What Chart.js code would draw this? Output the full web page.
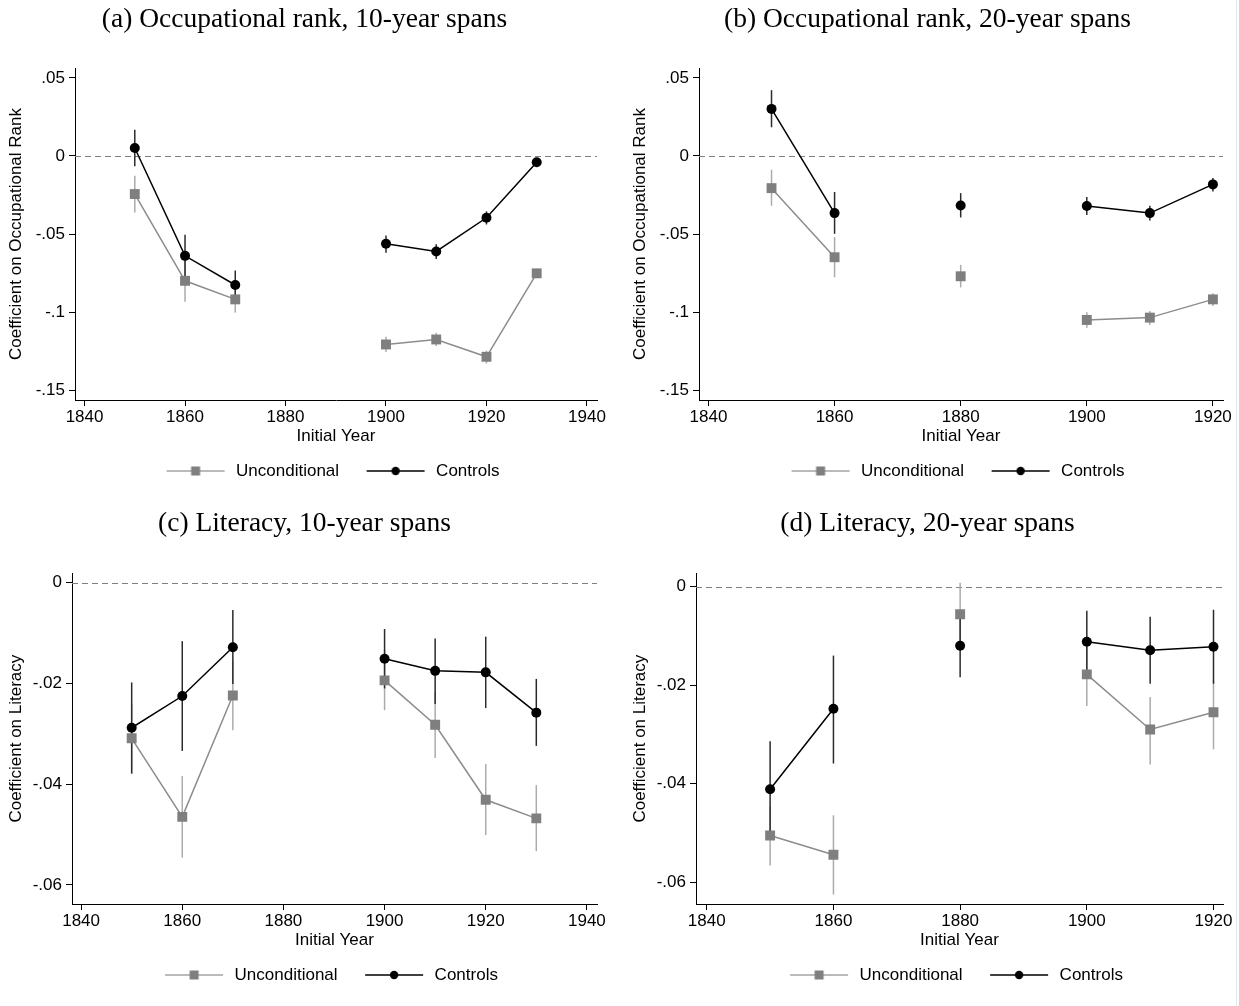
<!DOCTYPE html>
<html><head><meta charset="utf-8">
<script src="https://cdn.jsdelivr.net/npm/chart.js@4.4.0/dist/chart.umd.min.js"></script>
<style>
html,body{margin:0;padding:0;background:#fff;}
#wrap{position:relative;width:1239px;height:1006px;overflow:hidden;background:#fff;}
.p{position:absolute;}
#edge{position:absolute;left:1236px;top:0;width:1px;height:1006px;background:#e3eaef;}
</style></head><body>
<div id="wrap">
<div class="p" style="left:0;top:0"><canvas id="ca" width="620" height="504"></canvas></div>
<div class="p" style="left:620px;top:0"><canvas id="cb" width="619" height="504"></canvas></div>
<div class="p" style="left:0;top:504px"><canvas id="cc" width="620" height="502"></canvas></div>
<div class="p" style="left:620px;top:504px"><canvas id="cd" width="619" height="502"></canvas></div>
<div id="edge"></div>
</div>
<script>
// ---------- DATA ----------
const seriesNames = ['Unconditional', 'Controls'];
const xLabel = 'Initial Year';

// (a) Occupational rank, 10-year spans
const yearsA   = [1850, 1860, 1870, 1880, 1900, 1910, 1920, 1930];
const uncA     = [-0.0244, -0.0800, -0.0919, null, -0.1208, -0.1176, -0.1287, -0.0752];
const uncA_hi  = [-0.0126, -0.0666, -0.0837, null, -0.1158, -0.1133, -0.1248, -0.0730];
const uncA_lo  = [-0.0362, -0.0934, -0.1004, null, -0.1257, -0.1218, -0.1330, -0.0773];
const ctrlA    = [0.0051, -0.0640, -0.0827, null, -0.0563, -0.0612, -0.0396, -0.0040];
const ctrlA_hi = [0.0169, -0.0505, -0.0734, null, -0.0510, -0.0565, -0.0355, -0.0020];
const ctrlA_lo = [-0.0066, -0.0775, -0.0920, null, -0.0620, -0.0660, -0.0439, -0.0062];

// (b) Occupational rank, 20-year spans
const yearsB   = [1850, 1860, 1870, 1880, 1890, 1900, 1910, 1920];
const uncB     = [-0.0206, -0.0649, null, -0.0771, null, -0.1051, -0.1036, -0.0919];
const uncB_hi  = [-0.0088, -0.0520, null, -0.0698, null, -0.1002, -0.0994, -0.0880];
const uncB_lo  = [-0.0319, -0.0777, null, -0.0842, null, -0.1101, -0.1084, -0.0961];
const ctrlB    = [0.0302, -0.0366, null, -0.0317, null, -0.0320, -0.0366, -0.0182];
const ctrlB_hi = [0.0422, -0.0231, null, -0.0238, null, -0.0263, -0.0319, -0.0141];
const ctrlB_lo = [0.0184, -0.0499, null, -0.0394, null, -0.0379, -0.0413, -0.0227];

// (c) Literacy, 10-year spans
const yearsC   = [1850, 1860, 1870, 1880, 1900, 1910, 1920, 1930];
const uncC     = [-0.0309, -0.0465, -0.0224, null, -0.0194, -0.0282, -0.0431, -0.0468];
const uncC_hi  = [-0.0241, -0.0384, -0.0155, null, -0.0134, -0.0217, -0.0360, -0.0402];
const uncC_lo  = [-0.0379, -0.0546, -0.0293, null, -0.0253, -0.0348, -0.0501, -0.0533];
const ctrlC    = [-0.0288, -0.0225, -0.0128, null, -0.0151, -0.0175, -0.0178, -0.0258];
const ctrlC_hi = [-0.0198, -0.0116, -0.0054, null, -0.0092, -0.0111, -0.0107, -0.0191];
const ctrlC_lo = [-0.0379, -0.0334, -0.0201, null, -0.0210, -0.0241, -0.0249, -0.0324];

// (d) Literacy, 20-year spans
const yearsD   = [1850, 1860, 1870, 1880, 1890, 1900, 1910, 1920];
const uncD     = [-0.0505, -0.0544, null, -0.0056, null, -0.0178, -0.0290, -0.0255];
const uncD_hi  = [-0.0446, -0.0464, null, 0.0008, null, -0.0115, -0.0224, -0.0190];
const uncD_lo  = [-0.0566, -0.0625, null, -0.0122, null, -0.0242, -0.0361, -0.0330];
const ctrlD    = [-0.0411, -0.0248, null, -0.0120, null, -0.0112, -0.0129, -0.0122];
const ctrlD_hi = [-0.0314, -0.0140, null, -0.0058, null, -0.0049, -0.0061, -0.0047];
const ctrlD_lo = [-0.0510, -0.0359, null, -0.0184, null, -0.0173, -0.0197, -0.0197];

// Tick values and labels
const xTicksWide   = [1840, 1860, 1880, 1900, 1920, 1940];
const xTicksNarrow = [1840, 1860, 1880, 1900, 1920];
const yTicksOcc    = [0.05, 0, -0.05, -0.1, -0.15];
const yLabelsOcc   = ['.05', '0', '-.05', '-.1', '-.15'];
const yTicksLit    = [0, -0.02, -0.04, -0.06];
const yLabelsLit   = ['0', '-.02', '-.04', '-.06'];

// ---------- STYLE ----------
const SANS = "'Liberation Sans', Arial, Helvetica, sans-serif";
const SERIF = "'Liberation Serif', 'Times New Roman', serif";
const FS = 17;
const UNC_MARK = '#7f7f7f', UNC_LINE = '#8c8c8c', UNC_CI = '#ababab';
const CTRL_MARK = '#000000', CTRL_LINE = '#000000', CTRL_CI = '#2b2b2b';

function legendIcon(kind) {
  const c = document.createElement('canvas');
  c.width = 73; c.height = 16;
  const g = c.getContext('2d');
  g.strokeStyle = kind === 'sq' ? '#a3a3a3' : '#000';
  g.lineWidth = 1.5;
  g.beginPath(); g.moveTo(12, 8); g.lineTo(70, 8); g.stroke();
  if (kind === 'sq') { g.fillStyle = UNC_MARK; g.fillRect(36.5, 3.5, 9, 9); }
  else { g.fillStyle = '#000'; g.beginPath(); g.arc(41, 8, 4.2, 0, Math.PI * 2); g.fill(); }
  return c;
}

function ciPlugin(bars, legShift, titleShift) {
  return {
    id: 'ciBars',
    afterLayout(chart) {
      if (chart.legend) { chart.legend.left += legShift; chart.legend.right += legShift; }
      if (chart.titleBlock) { chart.titleBlock.left += titleShift; chart.titleBlock.right += titleShift; }
    },
    beforeDatasetsDraw(chart) {
      const {ctx, chartArea, scales: {x, y}} = chart;
      ctx.save();
      const y0 = Math.round(y.getPixelForValue(0)) + 0.5;
      ctx.strokeStyle = '#808080'; ctx.lineWidth = 1; ctx.setLineDash([6, 4]);
      ctx.beginPath(); ctx.moveTo(chartArea.left, y0); ctx.lineTo(chartArea.right, y0); ctx.stroke();
      ctx.setLineDash([]);
      bars.forEach(b => {
        ctx.strokeStyle = b.color; ctx.lineWidth = 1.5;
        b.years.forEach((yr, i) => {
          if (b.lo[i] == null || b.hi[i] == null) return;
          const px = x.getPixelForValue(yr);
          ctx.beginPath();
          ctx.moveTo(px, y.getPixelForValue(b.lo[i]));
          ctx.lineTo(px, y.getPixelForValue(b.hi[i]));
          ctx.stroke();
        });
      });
      ctx.restore();
    }
  };
}

function makePanel(id, p) {
  const pts = (vals) => p.years.map((yr, i) => ({x: yr, y: vals[i]}));
  const iconSq = legendIcon('sq'), iconCi = legendIcon('ci');
  new Chart(document.getElementById(id), {
    type: 'line',
    data: {
      datasets: [
        {label: seriesNames[0], data: pts(p.unc), borderColor: UNC_LINE, borderWidth: 1.5,
         pointStyle: 'rect', pointRadius: 7, pointBackgroundColor: UNC_MARK, pointBorderWidth: 0,
         pointBorderColor: UNC_MARK, spanGaps: false, tension: 0, order: 1},
        {label: seriesNames[1], data: pts(p.ctrl), borderColor: CTRL_LINE, borderWidth: 1.5,
         pointStyle: 'circle', pointRadius: 5, pointBackgroundColor: CTRL_MARK, pointBorderWidth: 0,
         pointBorderColor: CTRL_MARK, spanGaps: false, tension: 0, order: 0}
      ]
    },
    options: {
      responsive: false, animation: false, events: [],
      layout: {padding: {left: 0, right: p.padR, top: 0, bottom: p.padB}},
      plugins: {
        tooltip: {enabled: false},
        title: {display: true, text: p.title, color: '#000',
                font: {family: SERIF, size: 27.5, weight: 'normal'},
                padding: {top: 3.5, bottom: p.titleB}},
        legend: {
          position: 'bottom', fullSize: false,
          labels: {
            usePointStyle: true, pointStyleWidth: 73, boxHeight: FS, padding: 15.5,
            color: '#000', font: {family: SANS, size: FS},
            generateLabels: () => [
              {text: seriesNames[0], pointStyle: iconSq, fillStyle: UNC_MARK, strokeStyle: UNC_MARK,
               lineWidth: 0, hidden: false, datasetIndex: 0, fontColor: '#000'},
              {text: seriesNames[1], pointStyle: iconCi, fillStyle: '#000', strokeStyle: '#000',
               lineWidth: 0, hidden: false, datasetIndex: 1, fontColor: '#000'}
            ]
          }
        }
      },
      scales: {
        x: {
          type: 'linear', min: p.xMin, max: p.xMax,
          afterBuildTicks: s => { s.ticks = p.xTicks.map(v => ({value: v})); },
          afterFit: s => { s.height = 47; },
          ticks: {autoSkip: false, maxRotation: 0, padding: 1, color: '#000',
                  font: {family: SANS, size: FS}, callback: v => String(v)},
          grid: {drawOnChartArea: false, drawTicks: true, tickLength: 6, color: '#000', lineWidth: 1},
          border: {display: true, color: '#000', width: 1},
          title: {display: true, text: xLabel, color: '#000', font: {family: SANS, size: FS},
                  padding: {top: 0, bottom: 0}}
        },
        y: {
          type: 'linear', min: p.yMin, max: p.yMax,
          afterBuildTicks: s => { s.ticks = p.yTicks.map(v => ({value: v})); },
          afterFit: s => { s.width = p.yW; },
          ticks: {autoSkip: false, padding: 4, color: '#000', font: {family: SANS, size: FS},
                  callback: (v, i) => p.yLabels[i]},
          grid: {drawOnChartArea: false, drawTicks: true, tickLength: 6, color: '#000', lineWidth: 1},
          border: {display: true, color: '#000', width: 1},
          title: {display: true, text: p.yTitle, color: '#000', font: {family: SANS, size: FS},
                  padding: {top: p.yTitlePad, bottom: 0}}
        }
      }
    },
    plugins: [ciPlugin([
      {years: p.years, lo: p.uncLo, hi: p.uncHi, color: UNC_CI},
      {years: p.years, lo: p.ctrlLo, hi: p.ctrlHi, color: CTRL_CI}
    ], -9, 6)]
  });
}

makePanel('ca', {
  title: '(a) Occupational rank, 10-year spans', yTitle: 'Coefficient on Occupational Rank',
  years: yearsA, unc: uncA, uncLo: uncA_lo, uncHi: uncA_hi, ctrl: ctrlA, ctrlLo: ctrlA_lo, ctrlHi: ctrlA_hi,
  xMin: 1838.1, xMax: 1942, xTicks: xTicksWide, yMin: -0.1564, yMax: 0.0564,
  yTicks: yTicksOcc, yLabels: yLabelsOcc, yW: 75, yTitlePad: 6, padR: 23, padB: 14.5, titleB: 31.5
});
makePanel('cb', {
  title: '(b) Occupational rank, 20-year spans', yTitle: 'Coefficient on Occupational Rank',
  years: yearsB, unc: uncB, uncLo: uncB_lo, uncHi: uncB_hi, ctrl: ctrlB, ctrlLo: ctrlB_lo, ctrlHi: ctrlB_hi,
  xMin: 1838.5, xMax: 1921.6, xTicks: xTicksNarrow, yMin: -0.1564, yMax: 0.0564,
  yTicks: yTicksOcc, yLabels: yLabelsOcc, yW: 79, yTitlePad: 9.8, padR: 16, padB: 14.5, titleB: 31.5
});
makePanel('cc', {
  title: '(c) Literacy, 10-year spans', yTitle: 'Coefficient on Literacy',
  years: yearsC, unc: uncC, uncLo: uncC_lo, uncHi: uncC_hi, ctrl: ctrlC, ctrlLo: ctrlC_lo, ctrlHi: ctrlC_hi,
  xMin: 1838.2, xMax: 1942, xTicks: xTicksWide, yMin: -0.0638, yMax: 0.00187,
  yTicks: yTicksLit, yLabels: yLabelsLit, yW: 72, yTitlePad: 6, padR: 23, padB: 12.5, titleB: 32.8
});
makePanel('cd', {
  title: '(d) Literacy, 20-year spans', yTitle: 'Coefficient on Literacy',
  years: yearsD, unc: uncD, uncLo: uncD_lo, uncHi: uncD_hi, ctrl: ctrlD, ctrlLo: ctrlD_lo, ctrlHi: ctrlD_hi,
  xMin: 1838.3, xMax: 1921.5, xTicks: xTicksNarrow, yMin: -0.0644, yMax: 0.0027,
  yTicks: yTicksLit, yLabels: yLabelsLit, yW: 76, yTitlePad: 9.8, padR: 16, padB: 12.5, titleB: 32.8
});
</script>
</body></html>
